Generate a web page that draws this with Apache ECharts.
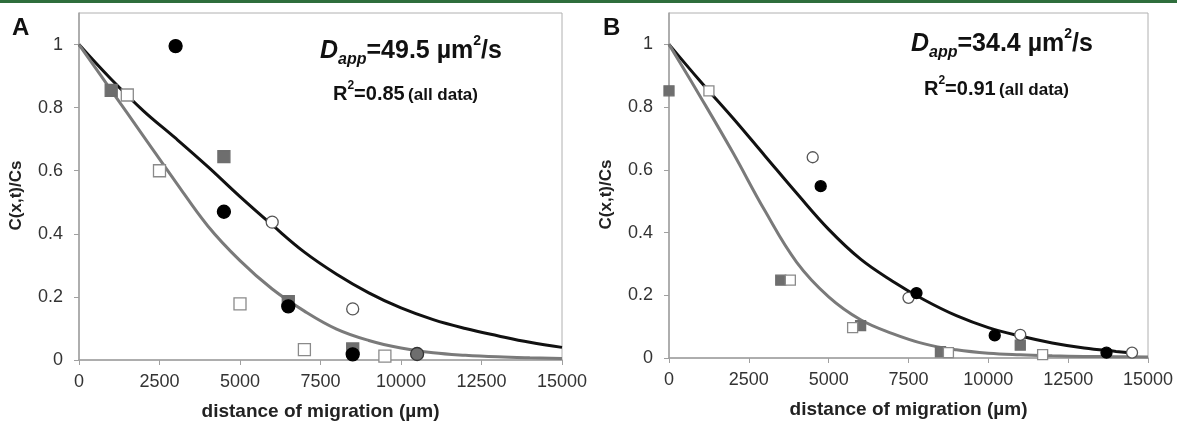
<!DOCTYPE html>
<html>
<head>
<meta charset="utf-8">
<title>Dapp fits</title>
<script src="https://cdn.jsdelivr.net/npm/echarts@6/dist/echarts.min.js"></script>
<style>
  html, body { margin: 0; padding: 0; background: #fff; }
  #main { width: 1177px; height: 426px; }
</style>
</head>
<body>
<div id="main"></div>
<script type="text/javascript">
// ---- panel A data (distance um, C/Cs) ----
var aBlackDotX = [3000, 4500, 6500, 8500];
var aBlackDotY = [0.995, 0.47, 0.17, 0.018];
var aOpenDotX = [6000, 8500, 10500];
var aOpenDotY = [0.437, 0.162, 0.019];
var aGraySqX = [1000, 4500, 6500, 8500];
var aGraySqY = [0.855, 0.645, 0.185, 0.035];
var aOpenSqX = [1500, 2500, 5000, 7000, 9500];
var aOpenSqY = [0.84, 0.6, 0.178, 0.033, 0.012];
// fitted curves
var aFitX = [0, 1000, 2000, 3000, 4000, 5000, 6000, 7000, 8000, 9000, 10000, 11000, 12000, 13000, 14000, 15000];
var aBlackFitY = [1, 0.89, 0.79, 0.703, 0.613, 0.518, 0.428, 0.342, 0.272, 0.213, 0.165, 0.128, 0.1, 0.077, 0.056, 0.04];
var aGrayFitY = [1, 0.855, 0.71, 0.565, 0.425, 0.315, 0.225, 0.155, 0.098, 0.062, 0.038, 0.023, 0.015, 0.01, 0.007, 0.005];

// ---- panel B data ----
var bBlackDotX = [4750, 7750, 10200, 13700];
var bBlackDotY = [0.548, 0.207, 0.072, 0.017];
var bOpenDotX = [4500, 7500, 11000, 14500];
var bOpenDotY = [0.64, 0.192, 0.074, 0.017];
var bGraySqX = [0, 3500, 6000, 8500, 11000];
var bGraySqY = [0.852, 0.248, 0.103, 0.02, 0.041];
var bOpenSqX = [1250, 3800, 5750, 8750, 11700];
var bOpenSqY = [0.852, 0.248, 0.097, 0.017, 0.011];
var bBlackFitX = [0, 1000, 2000, 3000, 4000, 5000, 6000, 7000, 8000, 9000, 10000, 11000, 12000, 13000, 14000, 14500];
var bBlackFitY = [1, 0.88, 0.765, 0.645, 0.525, 0.41, 0.315, 0.245, 0.185, 0.135, 0.097, 0.07, 0.048, 0.032, 0.021, 0.016];
var bGrayFitX = [0, 1000, 2000, 3000, 4000, 5000, 6000, 7000, 8000, 9000, 10000, 11000, 12000, 13000, 14000, 15000];
var bGrayFitY = [1, 0.83, 0.655, 0.47, 0.305, 0.195, 0.122, 0.078, 0.045, 0.026, 0.015, 0.01, 0.007, 0.005, 0.004, 0.003];

var xTicks = [0, 2500, 5000, 7500, 10000, 12500, 15000];
var yTicks = [0, 0.2, 0.4, 0.6, 0.8, 1];

function pairs(xs, ys) {
    var out = [];
    for (var i = 0; i < xs.length; i++) out.push([xs[i], ys[i]]);
    return out;
}

var FONT = 'Liberation Sans, Arial, sans-serif';

function xAxisFor(idx) {
    return {
        gridIndex: idx, type: 'value', min: xTicks[0], max: xTicks[xTicks.length - 1], interval: 2500,
        name: 'distance of migration (\u00b5m)', nameLocation: 'middle', nameGap: 42,
        nameTextStyle: { fontFamily: FONT, fontSize: 19, fontWeight: 'bold', color: '#222' },
        axisLine: { onZero: false, lineStyle: { color: '#a0a0a0', width: 1.5 } },
        axisTick: { show: true, length: 5, lineStyle: { color: '#a0a0a0' } },
        axisLabel: { fontFamily: FONT, fontSize: 18, color: '#333', margin: 13,
            formatter: function (v) { return String(v); } },
        splitLine: { show: false }
    };
}
function yAxisFor(idx) {
    return {
        gridIndex: idx, type: 'value', min: 0, max: 1.1, interval: 0.2,
        name: 'C(x,t)/Cs', nameLocation: 'middle', nameGap: 54,
        nameTextStyle: { fontFamily: FONT, fontSize: 17, fontWeight: 'bold', color: '#222', padding: [0, 0, 0, -18] },
        axisLine: { lineStyle: { color: '#a0a0a0', width: 1.5 } },
        axisTick: { show: true, length: 5, lineStyle: { color: '#a0a0a0' } },
        axisLabel: { fontFamily: FONT, fontSize: 18, color: '#333', margin: 16, showMaxLabel: false,
            formatter: function (v) { return v > 1.05 ? '' : String(+v.toFixed(1)); } },
        splitLine: { show: false }
    };
}

function fitLine(xi, data, color) {
    return { type: 'line', xAxisIndex: xi, yAxisIndex: xi, data: data, smooth: 0.4,
        showSymbol: false, symbol: 'none', lineStyle: { color: color, width: 3 }, z: 2, silent: true };
}
function marks(xi, data, symbol, size, fill, border) {
    return { type: 'scatter', xAxisIndex: xi, yAxisIndex: xi, data: data, symbol: symbol, symbolSize: size,
        itemStyle: { color: fill, borderColor: border, borderWidth: 1.3, opacity: 1 }, z: 3 };
}

var aOpenDots = pairs(aOpenDotX, aOpenDotY);
aOpenDots[2] = { value: aOpenDots[2], itemStyle: { color: '#6e6e6e', borderColor: '#333' }, symbolSize: 13 };

var myChart = echarts.init(document.getElementById('main'), null, { renderer: 'canvas' });

function dText(x, y, val, r2, gap) {
    return [{
        type: 'text', left: x, top: y,
        style: {
            text: '{d|D}{sub|app}{n|=' + val + ' \u00b5m}{sup|2}{n|/s}',
            fontFamily: FONT,
            rich: {
                d: { fontSize: 25, fontWeight: 'bold', fontStyle: 'italic', fill: '#111', fontFamily: FONT, lineHeight: 30, verticalAlign: 'bottom' },
                sub: { fontSize: 16, fontWeight: 'bold', fontStyle: 'italic', fill: '#111', fontFamily: FONT, lineHeight: 22, verticalAlign: 'bottom', padding: [0, 0, -4, 0] },
                n: { fontSize: 25, fontWeight: 'bold', fill: '#111', fontFamily: FONT, lineHeight: 30, verticalAlign: 'bottom' },
                sup: { fontSize: 14, fontWeight: 'bold', fill: '#111', fontFamily: FONT, lineHeight: 30, verticalAlign: 'top' }
            }
        }
    }, {
        type: 'text', left: x + 13, top: y + gap,
        style: {
            text: '{r|R}{sup|2}{r|=' + r2 + '} {s|(all data)}',
            fontFamily: FONT,
            rich: {
                r: { fontSize: 20, fontWeight: 'bold', fill: '#111', fontFamily: FONT, lineHeight: 24, verticalAlign: 'bottom' },
                sup: { fontSize: 12, fontWeight: 'bold', fill: '#111', fontFamily: FONT, lineHeight: 24, verticalAlign: 'top' },
                s: { fontSize: 17, fontWeight: 'bold', fill: '#111', fontFamily: FONT, lineHeight: 24, verticalAlign: 'bottom' }
            }
        }
    }];
}

var graphics = [
    { type: 'rect', left: 0, top: 0, shape: { width: 1177, height: 3 }, style: { fill: '#2f6e3c' } },
    { type: 'text', left: 12, top: 16, style: { text: 'A', fontFamily: FONT, fontSize: 24, fontWeight: 'bold', fill: '#111' } },
    { type: 'text', left: 603, top: 16, style: { text: 'B', fontFamily: FONT, fontSize: 24, fontWeight: 'bold', fill: '#111' } }
].concat(dText(320, 34, '49.5', '0.85', 46)).concat(dText(911, 27, '34.4', '0.91', 48));

myChart.setOption({
    animation: false,
    backgroundColor: '#fff',
    grid: [
        { left: 79, right: 615, top: 13, bottom: 64, show: true, borderColor: '#b0b0b0', borderWidth: 1, backgroundColor: 'transparent' },
        { left: 669, right: 29, top: 13, bottom: 68, show: true, borderColor: '#b0b0b0', borderWidth: 1, backgroundColor: 'transparent' }
    ],
    xAxis: [xAxisFor(0), xAxisFor(1)],
    yAxis: [yAxisFor(0), yAxisFor(1)],
    graphic: graphics,
    series: [
        fitLine(0, pairs(aFitX, aBlackFitY), '#111'),
        fitLine(0, pairs(aFitX, aGrayFitY), '#7a7a7a'),
        marks(0, pairs(aGraySqX, aGraySqY), 'rect', 12, '#6e6e6e', '#6e6e6e'),
        marks(0, pairs(aOpenSqX, aOpenSqY), 'rect', 12, '#fff', '#8a8a8a'),
        marks(0, aOpenDots, 'circle', 12, '#fff', '#555'),
        marks(0, pairs(aBlackDotX, aBlackDotY), 'circle', 13, '#000', '#000'),

        fitLine(1, pairs(bBlackFitX, bBlackFitY), '#111'),
        fitLine(1, pairs(bGrayFitX, bGrayFitY), '#7a7a7a'),
        marks(1, pairs(bGraySqX, bGraySqY), 'rect', 10, '#6e6e6e', '#6e6e6e'),
        marks(1, pairs(bOpenSqX, bOpenSqY), 'rect', 10, '#fff', '#8a8a8a'),
        marks(1, pairs(bOpenDotX, bOpenDotY), 'circle', 11, '#fff', '#555'),
        marks(1, pairs(bBlackDotX, bBlackDotY), 'circle', 11, '#000', '#000')
    ]
});
</script>
</body>
</html>
